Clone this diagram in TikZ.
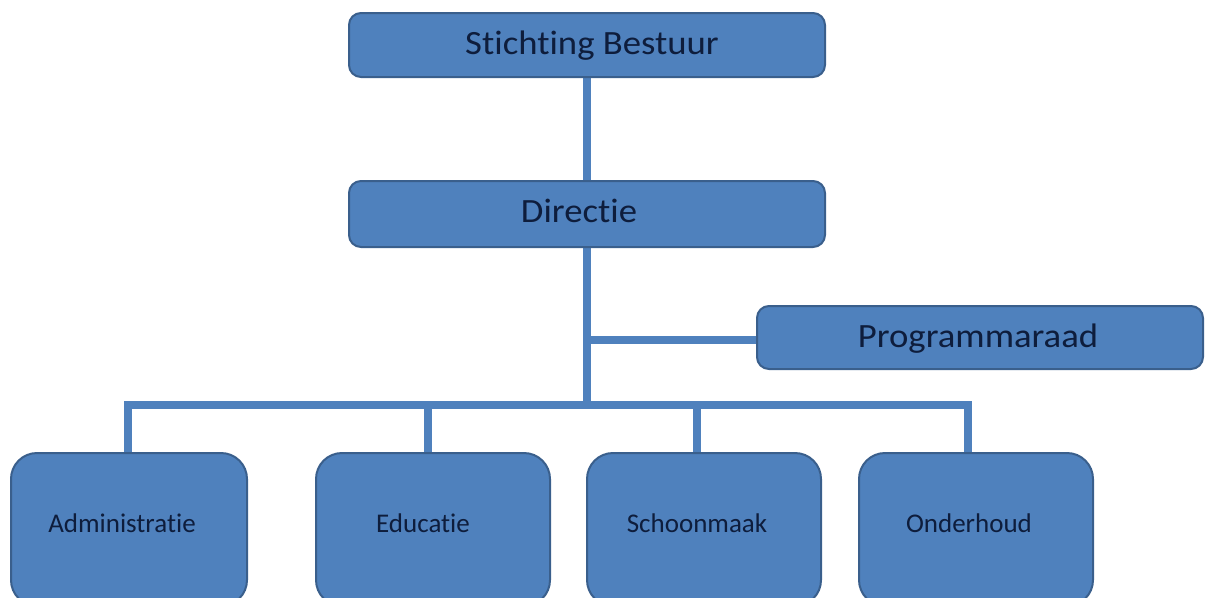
\documentclass[tikz,border=0pt]{standalone}
\usepackage{fontspec}
\setmainfont{Carlito}[RawFeature={-liga;-clig;-dlig}]
\definecolor{boxfill}{HTML}{4F81BD}
\definecolor{boxline}{HTML}{3A5F8C}
\definecolor{txt}{HTML}{0E1D3C}
\newcommand{\wide}[1]{\scalebox{1.08}[1]{#1}}
\begin{document}
\begin{tikzpicture}[x=1pt,y=-1pt,
  topbox/.style={draw=boxline,line width=2pt,fill=boxfill,rounded corners=12pt,inner sep=0pt},
  botbox/.style={draw=boxline,line width=2pt,fill=boxfill,rounded corners=26pt,inner sep=0pt},
  lbl/.style={text=txt,inner sep=0pt,anchor=base},
  toplbl/.style={lbl,font=\fontsize{34}{40}\selectfont},
  botlbl/.style={lbl,font=\fontsize{27}{32}\selectfont},
  conn/.style={draw=boxfill,line width=8pt}]
\useasboundingbox (0,0) rectangle (1206,597);
% connectors
\coordinate (sbb) at (587,78);
\coordinate (dt) at (587,180);
\coordinate (db) at (587,248);
\coordinate (pj) at (587,340);
\coordinate (pl) at (756,340);
\coordinate (bj) at (587,405);
\coordinate (bl) at (124,405);
\coordinate (br) at (972,405);
\coordinate (a1) at (128,405);
\coordinate (a2) at (428,405);
\coordinate (a3) at (697,405);
\coordinate (a4) at (968,405);
\coordinate (b1) at (128,454);
\coordinate (b2) at (428,454);
\coordinate (b3) at (697,454);
\coordinate (b4) at (968,454);
\draw[conn] (sbb) -- (dt);
\draw[conn] (db) -- (bj);
\draw[conn] (pj) -- (pl);
\draw[conn] (bl) -- (br);
\draw[conn] (a1) -- (b1);
\draw[conn] (a2) -- (b2);
\draw[conn] (a3) -- (b3);
\draw[conn] (a4) -- (b4);
% boxes
\path[topbox] (349,13) rectangle (825,77);
\node[toplbl] (sb) at (592,54) {\wide{Stichting Bestuur}};
\path[topbox] (349,181) rectangle (825,247);
\node[toplbl] (di) at (579,222) {\wide{Directie}};
\path[topbox] (757,306) rectangle (1203,369);
\node[toplbl] (pr) at (978,347) {\wide{Programmaraad}};
\path[botbox] (11,453) rectangle (247,606);
\node[botlbl] (ad) at (122,532) {Administratie};
\path[botbox] (316,453) rectangle (550,606);
\node[botlbl] (ed) at (423,532) {Educatie};
\path[botbox] (587,453) rectangle (821,606);
\node[botlbl] (sc) at (697,532) {Schoonmaak};
\path[botbox] (859,453) rectangle (1093,606);
\node[botlbl] (on) at (969,532) {Onderhoud};
\end{tikzpicture}
\end{document}
